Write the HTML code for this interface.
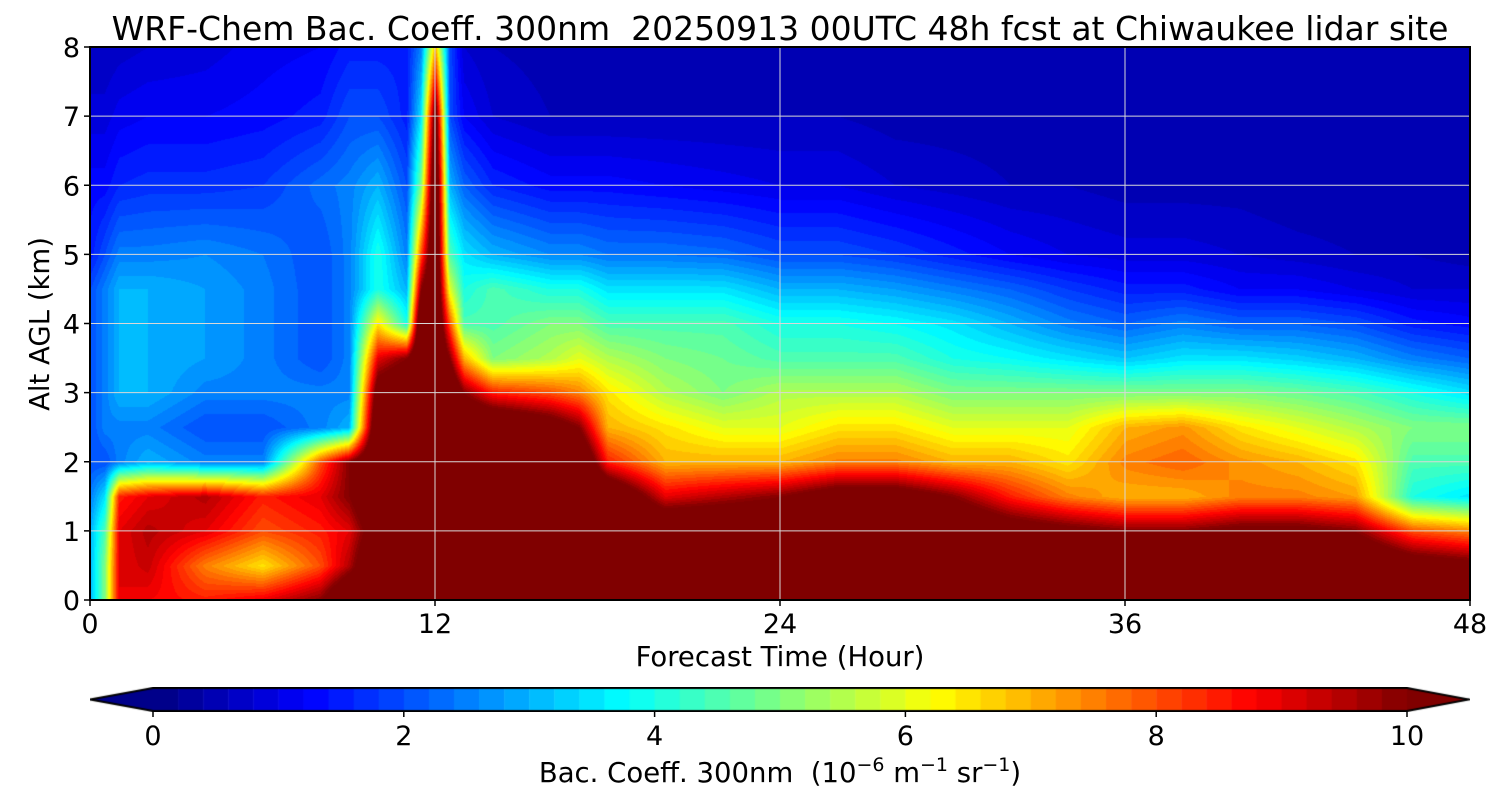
<!DOCTYPE html>
<html><head><meta charset="utf-8">
<style>
body{margin:0;background:#fff;width:1500px;height:800px;overflow:hidden;font-family:"DejaVu Sans",sans-serif;}
#wrap{position:relative;width:1500px;height:800px;}
canvas{position:absolute;}
svg{position:absolute;left:0;top:0;}
text{font-family:"DejaVu Sans","Liberation Sans",sans-serif;fill:#000;}
</style></head><body>
<div id="wrap">
<canvas id="field" width="1380" height="553" style="left:90px;top:47px"></canvas>
<canvas id="cbar" width="1380" height="25" style="left:90px;top:687px"></canvas>
<svg id="ax" width="1500" height="800"></svg>
</div>
<script>
const times=[0,0.5,1,2,4,6,8,9,10,11,11.5,12,12.5,13,14,16,17,18,20,22,24,26,28,30,32,34,36,38,40,42,44,46,48];
const alts=[0,0.5,1,1.5,2,2.5,3,3.5,4,4.5,5,6,7,8];
const values=[
[3,3,3,2.5,2,2,2,2,2,2,1.5,1.3,0.9,0.6],
[5,5,4.5,3.5,2,2.5,2.5,2.5,2.5,2.5,2,1.3,0.9,0.6],
[9,9,9,8.5,2.5,2.5,3,3,3,3,2.5,1.6,1.1,0.7],
[8.8,9.3,9.5,9,3,2.5,3,3,3,3,2.5,1.7,1.2,0.8],
[8.5,7.5,9,9.5,2.5,2,2.5,2.8,2.8,2.8,2.6,1.7,1.2,0.9],
[9,6.5,8,8.5,2.5,2,2.5,2.5,2.5,2.5,2.4,1.8,1.3,1.1],
[10,8,8.5,9,8,2.5,2.5,2,2,2,2,2.3,1.5,1.2],
[12,9.5,9,10,10,3,2.5,2.5,2.5,2.5,2.5,2.5,2,1.5],
[12,12,11,12,12,12,11,9,6.5,4,4,3,2,1.5],
[12,12,12,12,12,12,12,10,4,3,2.5,2,1.5,1.5],
[12,12,12,12,12,12,12,12,12,10,8,5,3.5,2.5],
[12,12,12,12,12,12,12,12,12,12,12,12,11,7],
[12,12,12,12,12,12,12,10,8,6,4.5,3,2,2],
[12,12,12,12,12,12,10,7,4.5,4,3.5,2.2,1.2,0.8],
[12,12,12,12,12,12,8.5,5,4.5,4.5,3,1.6,0.8,0.6],
[12,12,12,12,12,11,8,5.5,5,4,2.6,1.3,0.6,0.5],
[12,12,12,12,12,10,7.5,6,5,4,2.6,1.3,0.6,0.5],
[12,12,12,12,8.5,7,6.5,5.5,4.5,3.5,2.4,1.3,0.6,0.5],
[12,12,12,9,7,6.5,5.5,5,4.5,3.5,2.4,1.2,0.6,0.5],
[12,12,12,9.5,7,6,5,4.8,4.5,3.5,2.3,1.1,0.6,0.5],
[12,12,12,10,7,6,5.5,4.5,4,3,2,1,0.6,0.5],
[12,12,12,11,7.5,6.5,5.5,4.5,4,3,2,1,0.6,0.5],
[12,12,12,11,7.5,6.5,5.5,4.5,3.8,2.8,1.8,0.8,0.5,0.5],
[12,12,12,10,7,6,5,4,3.5,2.5,1.5,0.7,0.5,0.5],
[12,12,11,8.5,7,6,5,3.8,3,2.2,1.2,0.6,0.5,0.5],
[12,12,10.5,7.5,6.5,6,5,3.5,2.5,1.8,1,0.6,0.5,0.4],
[12,12,10,7,7.5,7,5,3.2,2.2,1.5,0.9,0.5,0.5,0.4],
[12,12,10,7,7.8,7.3,5,3.5,2.5,1.5,0.9,0.5,0.4,0.4],
[12,12,10.5,7.5,7.3,6.5,5,3.5,2.2,1.2,0.8,0.5,0.4,0.4],
[12,12,10.5,7.5,7,6,4.8,3.3,2.2,1.2,0.7,0.4,0.4,0.4],
[12,12,10,7.2,6.5,5.5,4.5,3,2,1,0.6,0.4,0.4,0.4],
[12,11,8,4,4.5,5,4,2.5,1.5,0.8,0.6,0.4,0.4,0.4],
[12,10.5,7.5,3.5,4.5,5,3.5,2.2,1.3,0.8,0.5,0.4,0.4,0.4]
];
const xTicks=[0,12,24,36,48];
const yTicks=[0,1,2,3,4,5,6,7,8];
const cTicks=[0,2,4,6,8,10];

const PX=90,PY=47,PW=1380,PH=553;
const xS=t=>PX+t/48*PW, yS=a=>PY+PH-a/8*PH;
const CX0=153,CX1=1407;
const cS=v=>CX0+v/10*(CX1-CX0);

function jet(x){x=Math.max(0,Math.min(1,x));
 const c=v=>Math.round(255*Math.max(0,Math.min(1,v)));
 return [c(1.5-Math.abs(4*x-3)),c(1.5-Math.abs(4*x-2)),c(1.5-Math.abs(4*x-1))];}
function colorOf(v){
 if(v>=10) return [128,0,0];
 if(v<0) v=0;
 const q=(Math.floor(v/0.2)+0.5)*0.2;
 return jet(q/10);
}
function idx(arr,v){let i=0;while(i<arr.length-2&&arr[i+1]<v)i++;return i;}
function sample(t,a){
 const i=idx(times,t),j=idx(alts,a);
 const ft=Math.max(0,Math.min(1,(t-times[i])/(times[i+1]-times[i])));
 const fa=Math.max(0,Math.min(1,(a-alts[j])/(alts[j+1]-alts[j])));
 const v00=values[i][j],v01=values[i][j+1],v10=values[i+1][j],v11=values[i+1][j+1];
 return (v00*(1-ft)+v10*ft)*(1-fa)+(v01*(1-ft)+v11*ft)*fa;
}
(function(){
 const cv=document.getElementById('field'),ctx=cv.getContext('2d');
 const img=ctx.createImageData(PW,PH);
 for(let y=0;y<PH;y++){const a=(PH-y)/PH*8;
  for(let x=0;x<PW;x++){const t=x/PW*48;
   const c=colorOf(sample(t,a));const k=(y*PW+x)*4;
   img.data[k]=c[0];img.data[k+1]=c[1];img.data[k+2]=c[2];img.data[k+3]=255;}}
 ctx.putImageData(img,0,0);
})();
(function(){
 const cv=document.getElementById('cbar'),ctx=cv.getContext('2d');
 const off=90,h=25;
 for(let k=0;k<50;k++){const v=k*0.2+0.1;const c=colorOf(v);
  ctx.fillStyle=`rgb(${c})`;const x0=cS(k*0.2)-off,x1=cS((k+1)*0.2)-off;
  ctx.fillRect(x0,1,x1-x0+0.5,h-2);}
 let c=colorOf(0);ctx.fillStyle=`rgb(${c})`;
 ctx.beginPath();ctx.moveTo(0,h/2);ctx.lineTo(CX0-off,1);ctx.lineTo(CX0-off,h-1);ctx.fill();
 ctx.fillStyle='rgb(128,0,0)';
 ctx.beginPath();ctx.moveTo(PW,h/2);ctx.lineTo(CX1-off,1);ctx.lineTo(CX1-off,h-1);ctx.fill();
 ctx.strokeStyle='#000';ctx.lineWidth=2;
 ctx.beginPath();ctx.moveTo(0,h/2);ctx.lineTo(CX0-off,1);ctx.lineTo(CX1-off,1);ctx.lineTo(PW-1,h/2);ctx.lineTo(CX1-off,h-1);ctx.lineTo(CX0-off,h-1);ctx.closePath();ctx.stroke();
})();
const svg=document.getElementById('ax');const NS='http://www.w3.org/2000/svg';
function mk(tag,attrs,txt){const e=document.createElementNS(NS,tag);for(const k in attrs)e.setAttribute(k,attrs[k]);if(txt!==undefined)e.textContent=txt;svg.appendChild(e);return e;}
xTicks.forEach(t=>{
 const g=mk('line',{x1:xS(t),x2:xS(t),y1:PY,y2:PY+PH,stroke:'#d8d8d8','stroke-width':1});
 
 
 const tk=mk('line',{x1:xS(t),x2:xS(t),y1:PY+PH,y2:PY+PH+6,stroke:'#000','stroke-width':1.5});
 
 
 const l=mk('text',{x:xS(t),y:633,'font-size':27,'text-anchor':'middle'},String(t));
 
 
});
yTicks.forEach(a=>{
 const g=mk('line',{x1:PX,x2:PX+PW,y1:yS(a),y2:yS(a),stroke:'#d8d8d8','stroke-width':1});
 
 
 const tk=mk('line',{x1:PX-6,x2:PX,y1:yS(a),y2:yS(a),stroke:'#000','stroke-width':1.5});
 
 
 const l=mk('text',{x:80,y:yS(a)+10,'font-size':27,'text-anchor':'end'},String(a));
 
 
});
cTicks.forEach(v=>{
 const tk=mk('line',{x1:cS(v),x2:cS(v),y1:711,y2:717,stroke:'#000','stroke-width':1.5});
 
 
 const l=mk('text',{x:cS(v),y:745,'font-size':27,'text-anchor':'middle'},String(v));
 
 
});
const fr=mk('rect',{x:PX,y:PY,width:PW,height:PH,fill:'none',stroke:'#000','stroke-width':2});


</script>
<svg width="1500" height="800" style="position:absolute;left:0;top:0;pointer-events:none">
<text x="780" y="40" font-size="33" text-anchor="middle" xml:space="preserve">WRF-Chem Bac. Coeff. 300nm  20250913 00UTC 48h fcst at Chiwaukee lidar site</text>
<text x="780" y="666" font-size="27.5" text-anchor="middle">Forecast Time (Hour)</text>
<text x="0" y="0" font-size="27.5" text-anchor="middle" transform="translate(49,324) rotate(-90)">Alt AGL (km)</text>
<text x="780" y="782" font-size="27.5" text-anchor="middle" xml:space="preserve">Bac. Coeff. 300nm  (10<tspan dy="-11" font-size="19">−6</tspan><tspan dy="11"> m</tspan><tspan dy="-11" font-size="19">−1</tspan><tspan dy="11"> sr</tspan><tspan dy="-11" font-size="19">−1</tspan><tspan dy="11">)</tspan></text>
</svg>
</body></html>
